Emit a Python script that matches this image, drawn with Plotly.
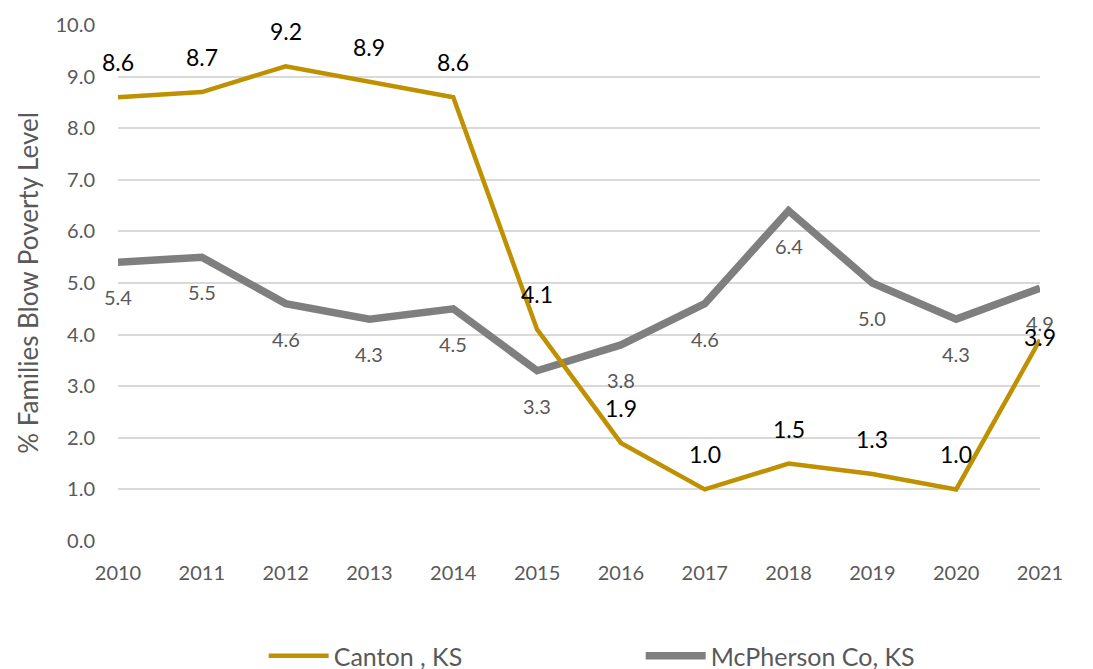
import plotly.graph_objects as go

years = [2010, 2011, 2012, 2013, 2014, 2015, 2016, 2017, 2018, 2019, 2020, 2021]
canton = [8.6, 8.7, 9.2, 8.9, 8.6, 4.1, 1.9, 1.0, 1.5, 1.3, 1.0, 3.9]
mcpherson = [5.4, 5.5, 4.6, 4.3, 4.5, 3.3, 3.8, 4.6, 6.4, 5.0, 4.3, 4.9]
series_names = ["Canton , KS", "McPherson Co, KS"]
y_ticks = [0, 1, 2, 3, 4, 5, 6, 7, 8, 9, 10]

FONT = "Lato, 'Open Sans', sans-serif"
GOLD = "#BF9000"
GRAY = "#7F7F7F"

fig = go.Figure()
fig.add_trace(go.Scatter(x=years, y=mcpherson, mode="lines", name=series_names[1],
                         line=dict(color=GRAY, width=7.5), legendrank=2, hoverinfo="skip"))
fig.add_trace(go.Scatter(x=years, y=canton, mode="lines", name=series_names[0],
                         line=dict(color=GOLD, width=4.5), legendrank=1, hoverinfo="skip"))

annotations = []
for i, (x, y) in enumerate(zip(years, mcpherson)):
    annotations.append(dict(x=x, y=y, text=f"{y:.1f}", showarrow=False, yshift=-35,
                            font=dict(family=FONT, size=20, color="#595959")))
for i, (x, y) in enumerate(zip(years, canton)):
    shift = 3 if i == len(years) - 1 else 35
    annotations.append(dict(x=x, y=y, text=f"{y:.1f}", showarrow=False, yshift=shift,
                            font=dict(family=FONT, size=23, color="#000000")))

fig.update_layout(
    width=1093, height=669,
    paper_bgcolor="white", plot_bgcolor="white",
    margin=dict(l=110, r=61, t=17, b=136, autoexpand=False),
    font=dict(family=FONT, size=20, color="#595959"),
    annotations=annotations,
    showlegend=True,
    legend=dict(orientation="h", x=0.158, xanchor="left", y=-0.223, yanchor="middle",
                font=dict(family=FONT, size=25, color="#595959"),
                entrywidth=302, entrywidthmode="pixels", itemwidth=60),
    xaxis=dict(range=[2010, 2021], tickmode="array", tickvals=years,
               ticktext=[str(y) for y in years], showgrid=False, zeroline=False,
               showline=False, ticks="outside", ticklen=14, tickcolor="rgba(0,0,0,0)",
               automargin=False, tickfont=dict(size=20, color="#595959")),
    yaxis=dict(range=[0, 10], tickmode="array", tickvals=y_ticks,
               ticktext=[f"{v:.1f}" for v in y_ticks], showgrid=True,
               gridcolor="#D9D9D9", gridwidth=1.5, zeroline=False, showline=False,
               ticks="outside", ticklen=18, tickcolor="rgba(0,0,0,0)", automargin=False,
               title=dict(text="% Families Blow Poverty Level", standoff=9,
                          font=dict(size=26, color="#595959")),
               tickfont=dict(size=20, color="#595959")),
)

fig.write_html("out.html")
